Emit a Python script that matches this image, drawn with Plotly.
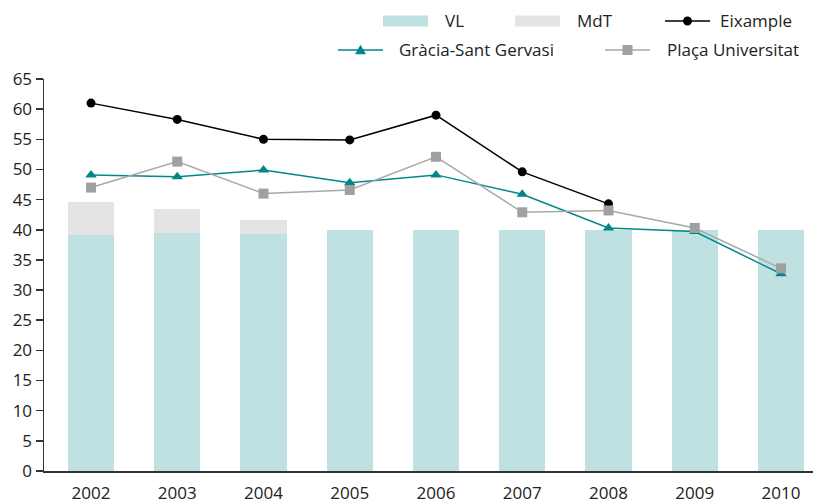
import plotly.graph_objects as go

years = ["2002", "2003", "2004", "2005", "2006", "2007", "2008", "2009", "2010"]
vl = [39.1, 39.5, 39.3, 40, 40, 40, 40, 40, 40]
mdt = [5.5, 3.9, 2.3, 0, 0, 0, 0, 0, 0]
eixample = [61.0, 58.3, 55.0, 54.9, 59.0, 49.6, 44.3, None, None]
gracia = [49.1, 48.8, 49.9, 47.8, 49.1, 45.9, 40.3, 39.7, 32.7]
placa = [47.0, 51.3, 46.0, 46.6, 52.1, 42.9, 43.2, 40.3, 33.6]
yticks = list(range(0, 70, 5))

C_VL = "#bfe1e1"
C_MDT = "#e3e4e3"
C_EIX = "#000000"
C_GRA = "#00878a"
C_PLA_M = "#a0a0a0"
C_PLA_L = "#a8a8a8"
FONT = "Open Sans"
FS = 17

W, H = 818, 504
L, R, T, B = 44, 5, 79, 33
PW, PH = W - L - R, H - T - B

fig = go.Figure()
fig.add_bar(x=years, y=vl, name="VL", marker=dict(color=C_VL, line=dict(width=0)), width=0.538)
fig.add_bar(x=years, y=mdt, name="MdT", marker=dict(color=C_MDT, line=dict(width=0)), width=0.538)
fig.add_scatter(x=years, y=eixample, name="Eixample", mode="lines+markers",
                line=dict(color=C_EIX, width=1.5), marker=dict(symbol="circle", size=9, color=C_EIX))
fig.add_scatter(x=years, y=gracia, name="Gràcia-Sant Gervasi", mode="lines+markers",
                line=dict(color=C_GRA, width=1.5), marker=dict(symbol="triangle-up", size=10, color=C_GRA))
fig.add_scatter(x=years, y=placa, name="Plaça Universitat", mode="lines+markers",
                line=dict(color=C_PLA_L, width=1.5), marker=dict(symbol="square", size=10, color=C_PLA_M))


def px(x):
    return (x - L) / PW


def py(y):
    return (H - B - y) / PH


shapes = []
annotations = []


def add_label(tx, yc, label):
    annotations.append(dict(xref="paper", yref="paper", x=px(tx), y=py(yc), text=label,
                            showarrow=False, xanchor="left", yanchor="middle",
                            font=dict(family=FONT, size=FS, color="#222")))


def rect_swatch(x0, x1, yc, color, label, tx):
    shapes.append(dict(type="rect", xref="paper", yref="paper", x0=px(x0), x1=px(x1),
                       y0=py(yc + 5.5), y1=py(yc - 5.5), fillcolor=color, line=dict(width=0)))
    add_label(tx, yc, label)


def line_swatch(x0, x1, yc, lcolor, mcolor, sym, label, tx):
    shapes.append(dict(type="line", xref="paper", yref="paper", x0=px(x0), x1=px(x1),
                       y0=py(yc), y1=py(yc), line=dict(color=lcolor, width=1.5)))
    xc = (x0 + x1) / 2
    if sym == "circle":
        r = 4.5
        shapes.append(dict(type="circle", xref="paper", yref="paper", x0=px(xc - r), x1=px(xc + r),
                           y0=py(yc + r), y1=py(yc - r), fillcolor=mcolor, line=dict(width=0)))
    elif sym == "square":
        r = 5
        shapes.append(dict(type="rect", xref="paper", yref="paper", x0=px(xc - r), x1=px(xc + r),
                           y0=py(yc + r), y1=py(yc - r), fillcolor=mcolor, line=dict(width=0)))
    else:
        r = 5.5
        path = "M {} {} L {} {} L {} {} Z".format(px(xc - r), py(yc + r * 0.75), px(xc + r), py(yc + r * 0.75),
                                                  px(xc), py(yc - r * 0.95))
        shapes.append(dict(type="path", xref="paper", yref="paper", path=path,
                           fillcolor=mcolor, line=dict(width=0)))
    add_label(tx, yc, label)


rect_swatch(383, 428, 21, C_VL, "VL", 443)
rect_swatch(515, 560, 21, C_MDT, "MdT", 575)
line_swatch(665, 710, 21, C_EIX, C_EIX, "circle", "Eixample", 718)
line_swatch(338, 383, 50, C_GRA, C_GRA, "triangle", "Gràcia-Sant Gervasi", 397)
line_swatch(605, 650, 50, C_PLA_L, C_PLA_M, "square", "Plaça Universitat", 665)

fig.update_layout(
    width=W, height=H,
    margin=dict(l=L, r=R, t=T, b=B, pad=0),
    barmode="stack",
    showlegend=False,
    hovermode=False,
    plot_bgcolor="white", paper_bgcolor="white",
    font=dict(family=FONT, size=FS, color="#222"),
    shapes=shapes, annotations=annotations,
    xaxis=dict(type="category", range=[-0.545, 8.371], showgrid=False, zeroline=False,
               showline=True, linecolor="#333", linewidth=1.5, ticks="", ticklabelstandoff=6,
               automargin=False, tickfont=dict(family=FONT, size=FS, color="#222")),
    yaxis=dict(range=[0, 65], tickvals=yticks, showgrid=False, zeroline=False,
               showline=True, linecolor="#333", linewidth=1.5, ticks="outside", ticklen=7,
               tickcolor="#333", tickwidth=1.5, automargin=False,
               tickfont=dict(family=FONT, size=FS, color="#222")),
)

fig.write_html("out.html", config={"displayModeBar": False, "staticPlot": True},
               post_script="document.body.style.margin='0';document.body.style.overflow='hidden';")
